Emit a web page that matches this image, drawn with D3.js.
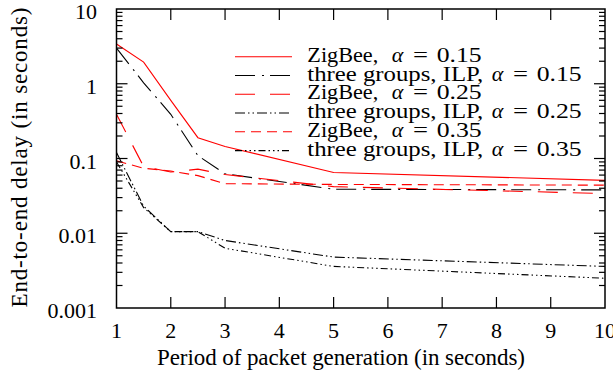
<!DOCTYPE html>
<html><head><meta charset="utf-8">
<script src="https://cdn.jsdelivr.net/npm/d3@7"></script>
<style>body{margin:0;background:#fff}svg{display:block}text{font-family:"Liberation Serif","Times New Roman",Times,Tinos,serif;fill:#000}</style>
</head><body>
<svg id="c" width="613" height="380"></svg>
<script>
const periods = [1, 1.5, 2, 2.5, 3, 5, 10];
const zigbee015 = [3.4, 1.95, 0.6, 0.19, 0.145, 0.065, 0.051];
const ilp015    = [3.0, 1.03, 0.39, 0.109, 0.0625, 0.0388, 0.038];
const zigbee025 = [0.39, 0.078, 0.066, 0.072, 0.061, 0.042, 0.034];
const ilp025    = [0.12, 0.023, 0.0105, 0.0105, 0.008, 0.0048, 0.0036];
const zigbee035 = [0.093, 0.074, 0.068, 0.059, 0.046, 0.045, 0.044];
const ilp035    = [0.09, 0.022, 0.0105, 0.0105, 0.0063, 0.0036, 0.0025];
const seriesNames = ["ZigBee,", "three groups, ILP,", "ZigBee,", "three groups, ILP,", "ZigBee,", "three groups, ILP,"];
const alphas = ["0.15", "0.15", "0.25", "0.25", "0.35", "0.35"];
const xTicks = [1,2,3,4,5,6,7,8,9,10];
const yTicks = [0.001, 0.01, 0.1, 1, 10];
const yTickLabels = ["0.001", "0.01", "0.1", "1", "10"];

const styles = [
  {c:"#ff0000", d:null},
  {c:"#000", d:"20,7,2,6"},
  {c:"#ff0000", d:"20,15"},
  {c:"#000", d:"10,3,1.5,3,1.5,3"},
  {c:"#ff0000", d:"10,6"},
  {c:"#000", d:"7,3,1.5,3,1.5,3,1.5,3"}
];
const allSeries = [zigbee015, ilp015, zigbee025, ilp025, zigbee035, ilp035];

const L=116.5, R=605, T=9, B=308;
const svg = d3.select("#c");
const x = d3.scaleLinear().domain([1,10]).range([L,R]);
const y = d3.scaleLog().domain([0.001,10]).range([B,T]);

const line = d3.line().x(d=>x(d[0])).y(d=>y(d[1]));
allSeries.forEach((s,i)=>{
  svg.append("path").datum(periods.map((p,j)=>[p,s[j]]))
    .attr("d",line).attr("fill","none").attr("stroke",styles[i].c)
    .attr("stroke-width",1.1).attr("stroke-dasharray",styles[i].d);
});

// ticks
const g = svg.append("g").attr("stroke","#000").attr("stroke-width",1.2);
xTicks.slice(1,-1).forEach(t=>{
  g.append("line").attr("x1",x(t)).attr("x2",x(t)).attr("y1",B).attr("y2",B-11);
  g.append("line").attr("x1",x(t)).attr("x2",x(t)).attr("y1",T).attr("y2",T+11);
});
const minor = [];
for (let e=-3;e<1;e++) for (let m=2;m<=9;m++) minor.push(m*Math.pow(10,e));
minor.forEach(v=>{
  g.append("line").attr("x1",L).attr("x2",L+6).attr("y1",y(v)).attr("y2",y(v));
  g.append("line").attr("x1",R).attr("x2",R-6).attr("y1",y(v)).attr("y2",y(v));
});
yTicks.slice(1,-1).forEach(v=>{
  g.append("line").attr("x1",L).attr("x2",L+11).attr("y1",y(v)).attr("y2",y(v));
  g.append("line").attr("x1",R).attr("x2",R-11).attr("y1",y(v)).attr("y2",y(v));
});
svg.append("rect").attr("x",L).attr("y",T).attr("width",R-L).attr("height",B-T)
  .attr("fill","none").attr("stroke","#000").attr("stroke-width",1.5);

// tick labels
xTicks.forEach(t=>{
  svg.append("text").attr("x",x(t)).attr("y",338).attr("text-anchor","middle")
    .attr("font-size",22).text(t);
});
yTicks.forEach((v,i)=>{
  svg.append("text").attr("x",97).attr("y",y(v)+10).attr("text-anchor","end")
    .attr("font-size",22).text(yTickLabels[i]);
});

// axis titles
svg.append("text").attr("x",341).attr("y",365).attr("text-anchor","middle")
  .attr("font-size",23).attr("textLength",368).attr("lengthAdjust","spacing")
  .text("Period of packet generation (in seconds)");
svg.append("text").attr("transform","translate(27,157.5) rotate(-90)").attr("text-anchor","middle")
  .attr("font-size",23).attr("textLength",300).attr("lengthAdjust","spacing")
  .text("End-to-end delay (in seconds)");

// legend
const rowY = [56.7, 75.5, 94.3, 113, 131.8, 150.6];
allSeries.forEach((s,i)=>{
  const zig = seriesNames[i].startsWith("ZigBee");
  svg.append("line").attr("x1",235).attr("x2",292).attr("y1",rowY[i]).attr("y2",rowY[i])
    .attr("stroke",styles[i].c).attr("stroke-width",1.1).attr("stroke-dasharray",styles[i].d);
  const by = rowY[i]+5;
  svg.append("text").attr("x",307.3).attr("y",by).attr("font-size",21)
    .attr("textLength", zig ? 71 : 176).attr("lengthAdjust","spacingAndGlyphs").text(seriesNames[i]);
  const ax = zig ? 391.7 : 491.7;
  svg.append("text").attr("x",ax).attr("y",by).attr("font-size",22).attr("font-style","italic").text("α");
  svg.append("text").attr("x",ax+21.3).attr("y",by).attr("font-size",21)
    .attr("textLength",15).attr("lengthAdjust","spacingAndGlyphs").text("=");
  svg.append("text").attr("x",ax+45).attr("y",by).attr("font-size",21)
    .attr("textLength",45).attr("lengthAdjust","spacingAndGlyphs").text(alphas[i]);
});
</script>
</body></html>
